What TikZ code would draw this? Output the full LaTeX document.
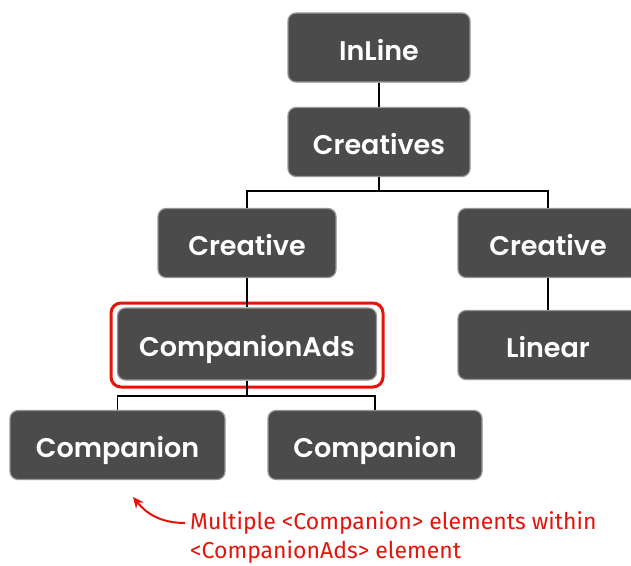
\documentclass[tikz,border=0pt]{standalone}
\usepackage{fontspec}
\setmainfont{Poppins}[UprightFont=* SemiBold]
\newfontfamily\notefont{Fira Sans}
\usetikzlibrary{arrows.meta}
\definecolor{boxfill}{RGB}{75,75,75}
\definecolor{boxedge}{RGB}{150,150,150}
\definecolor{notered}{RGB}{228,20,10}
\tikzset{
  tbox/.style={rectangle, rounded corners=8pt, fill=boxfill, draw=boxedge, line width=1.2pt,
    text=white, font=\fontsize{27}{30}\selectfont, inner sep=0pt, minimum height=69pt,
    text height=25pt, text depth=0pt},
  conn/.style={draw=black, line width=1.3pt},
  hilite/.style={draw=notered, line width=3pt, rounded corners=10pt},
  notetext/.style={anchor=west, text=notered, font=\notefont\fontsize{23}{26}\selectfont, inner sep=0pt},
}
\begin{document}
\begin{tikzpicture}[x=1pt,y=-1pt]
\clip (0,0) rectangle (631,565);
\fill[white] (0,0) rectangle (631,565);
\node[tbox, minimum width=182pt] (inline) at (379,47.5) {InLine};
\node[tbox, minimum width=182pt] (creatives) at (379,142) {Creatives};
\node[tbox, minimum width=178pt] (creativeL) at (247,243) {Creative};
\node[tbox, minimum width=180pt] (creativeR) at (548,243) {Creative};
\node[tbox, minimum width=259pt, minimum height=72pt] (compads) at (247,344) {CompanionAds};
\node[tbox, minimum width=180pt] (linear) at (548,345) {Linear};
\node[tbox, minimum width=215pt] (compL) at (117.5,445) {Companion};
\node[tbox, minimum width=214pt] (compR) at (375,445) {Companion};
\node[hilite, minimum width=272pt, minimum height=84pt, inner sep=0pt] (hl) at (247,345) {};
\coordinate (j1) at (379,191);
\coordinate (j2) at (247,396);
\draw[conn] (inline.south) -- (creatives.north);
\draw[conn] (creatives.south) -- (j1);
\draw[conn] (creativeL.north) |- (j1) -| (creativeR.north);
\draw[conn] (creativeL.south) -- (compads.north);
\draw[conn] (creativeR.south) -- (linear.north);
\draw[conn] (compads.south) -- (j2);
\draw[conn] (compL.north) |- (j2) -| (compR.north);
\node[notetext] (note1) at (190,523) {Multiple <Companion> elements within};
\node[notetext] (note2) at (190,552) {<CompanionAds> element};
\coordinate (tip) at (133,497);
\draw[draw=notered, line width=2pt, -{Stealth[length=11pt,width=10pt]}] ([xshift=-5pt]note1.west) .. controls (160,523) and (146,513) .. (tip);
\end{tikzpicture}
\end{document}
